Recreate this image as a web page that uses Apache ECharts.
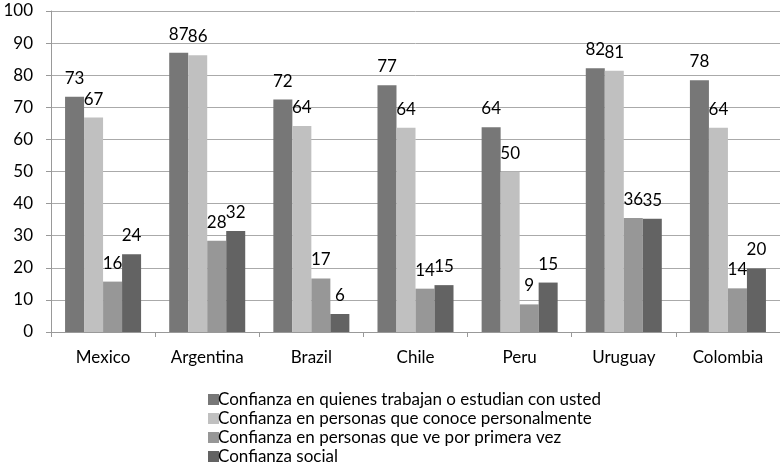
<!DOCTYPE html>
<html>
<head>
<meta charset="utf-8">
<script src="https://cdn.jsdelivr.net/npm/echarts@6/dist/echarts.min.js"></script>
<style>
  html, body { margin: 0; padding: 0; background: #fff; }
  #chart { width: 780px; height: 467px; }
</style>
</head>
<body>
<div id="chart"></div>
<script>
var countries = ['Mexico', 'Argentina', 'Brazil', 'Chile', 'Peru', 'Uruguay', 'Colombia'];

var seriesNames = [
    'Confianza en quienes trabajan o estudian con usted',
    'Confianza en personas que conoce personalmente',
    'Confianza en personas que ve por primera vez',
    'Confianza social'
];

// bar heights, labels are the rounded values
var trabajan = [73.3, 87.0, 72.4, 76.9, 63.8, 82.2, 78.4];
var conoce   = [66.8, 86.2, 64.2, 63.6, 49.9, 81.4, 63.6];
var primera  = [15.7, 28.4, 16.7, 13.5,  8.6, 35.5, 13.6];
var social   = [24.2, 31.5,  5.6, 14.6, 15.4, 35.3, 19.8];

var colors = ['#777777', '#c0c0c0', '#979797', '#636363'];

var font = 'Lato';

function barSeries(name, data, color) {
    return {
        name: name,
        type: 'bar',
        data: data,
        barGap: '0%',
        barCategoryGap: '27%',
        itemStyle: { color: color },
        label: {
            show: true,
            position: 'top',
            distance: 10,
            color: '#000',
            fontFamily: font,
            fontSize: 17,
            formatter: function(p) { return Math.round(p.value); }
        }
    };
}

var chart = echarts.init(document.getElementById('chart'));

chart.setOption({
    animation: false,
    color: colors,
    grid: {
        left: 51,
        top: 11,
        width: 735,
        height: 321
    },
    legend: {
        orient: 'vertical',
        left: 203,
        top: 386,
        height: 100,
        itemWidth: 11,
        itemHeight: 11,
        itemGap: 2,
        icon: 'rect',
        textStyle: { fontFamily: font, fontSize: 17, color: '#000', padding: [0, 0, 0, -6] },
        data: seriesNames
    },
    xAxis: {
        type: 'category',
        data: countries,
        axisLine: { lineStyle: { color: '#999' } },
        axisTick: { show: true, length: 5, lineStyle: { color: '#999' } },
        axisLabel: { color: '#000', fontFamily: font, fontSize: 17, margin: 17 }
    },
    yAxis: {
        type: 'value',
        min: 0,
        max: 100,
        interval: 10,
        axisLine: { show: true, lineStyle: { color: '#999' } },
        axisTick: { show: true, length: 5, lineStyle: { color: '#999' } },
        splitLine: { lineStyle: { color: '#aaa' } },
        axisLabel: { color: '#000', fontFamily: font, fontSize: 17, margin: 18 }
    },
    series: [
        barSeries(seriesNames[0], trabajan, colors[0]),
        barSeries(seriesNames[1], conoce, colors[1]),
        barSeries(seriesNames[2], primera, colors[2]),
        barSeries(seriesNames[3], social, colors[3])
    ]
});
</script>
</body>
</html>
